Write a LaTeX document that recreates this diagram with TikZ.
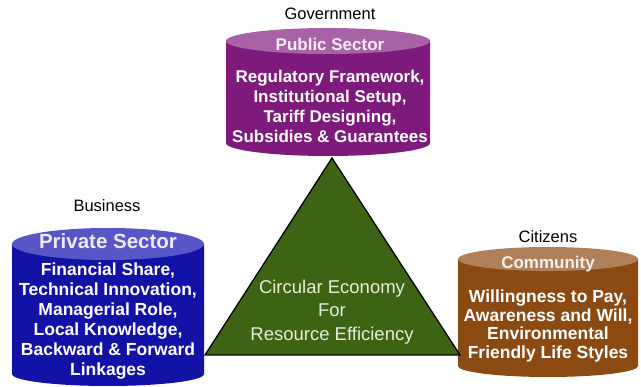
\documentclass[tikz,border=0pt]{standalone}
\usepackage{fontspec}
\setmainfont{Liberation Sans}
\definecolor{pubbody}{HTML}{7E1A7C}
\definecolor{pubcap}{HTML}{A862A6}
\definecolor{pribody}{HTML}{1212A6}
\definecolor{pricap}{HTML}{5656C6}
\definecolor{combody}{HTML}{8A4A12}
\definecolor{comcap}{HTML}{B0805A}
\definecolor{cegreen}{HTML}{3C6414}
\definecolor{cetext}{HTML}{E4EED8}
\tikzset{
  actor/.style={font=\fontsize{16.5}{18}\selectfont},
  sectitle/.style={font=\bfseries\fontsize{17}{19}\selectfont, text=#1},
  secbody/.style={align=center, text=white, inner sep=0pt,
    font=\bfseries\fontsize{17}{20}\selectfont},
  cetitle/.style={align=center, text=cetext, inner sep=0pt,
    font=\fontsize{18.5}{23.5}\selectfont}
}
\begin{document}
\begin{tikzpicture}[x=1pt, y=-1pt]
  \useasboundingbox (0,0) rectangle (641,387);
  % public sector
  \fill[pubbody] (226,40) -- (226,143) arc[start angle=180, end angle=0, x radius=102, y radius=13] -- (430,40) -- cycle;
  \fill[pubcap] (328,41) ellipse[x radius=102, y radius=13];
  % private sector
  \fill[pribody] (12,245) -- (12,374) arc[start angle=180, end angle=0, x radius=96, y radius=12] -- (204,245) -- cycle;
  \fill[pricap] (108,244) ellipse[x radius=96, y radius=16];
  % community
  \fill[combody] (458,259) -- (458,366) arc[start angle=180, end angle=0, x radius=90, y radius=11] -- (638,259) -- cycle;
  \fill[comcap] (548,259) ellipse[x radius=90, y radius=12];
  % triangle
  \coordinate (top) at (332,158);
  \coordinate (bl) at (205,355);
  \coordinate (br) at (460,355);
  \filldraw[fill=cegreen, draw=black, line width=1.3pt, line join=miter] (top) -- (bl) -- (br) -- cycle;

  \node[actor] (gov) at (330,14) {Government};
  \node[actor] (bus) at (107,206) {Business};
  \node[actor] (cit) at (548,237) {Citizens};

  \node[sectitle={white!88!pubcap}] (pub) at (330,44) {Public Sector};
  \node[sectitle={white!88!pricap}, font=\bfseries\fontsize{20.5}{22}\selectfont] (pri) at (108,241) {Private Sector};
  \node[sectitle={white!88!comcap}] (com) at (548,264) {Community};

  \node[secbody] (pubtxt) at (330,106) {Regulatory Framework,\\Institutional Setup,\\Tariff Designing,\\Subsidies \& Guarantees};
  \node[secbody, font=\bfseries\fontsize{17.5}{20}\selectfont] (pritxt) at (108,321) {Financial Share,\\Technical Innovation,\\Managerial Role,\\Local Knowledge,\\Backward \& Forward\\Linkages};
  \node[secbody, font=\bfseries\fontsize{17.5}{18.5}\selectfont] (comtxt) at (548,326) {Willingness to Pay,\\Awareness and Will,\\Environmental\\Friendly Life Styles};

  \node[cetitle] (ce) at (332,312) {Circular Economy\\For\\Resource Efficiency};
\end{tikzpicture}
\end{document}
